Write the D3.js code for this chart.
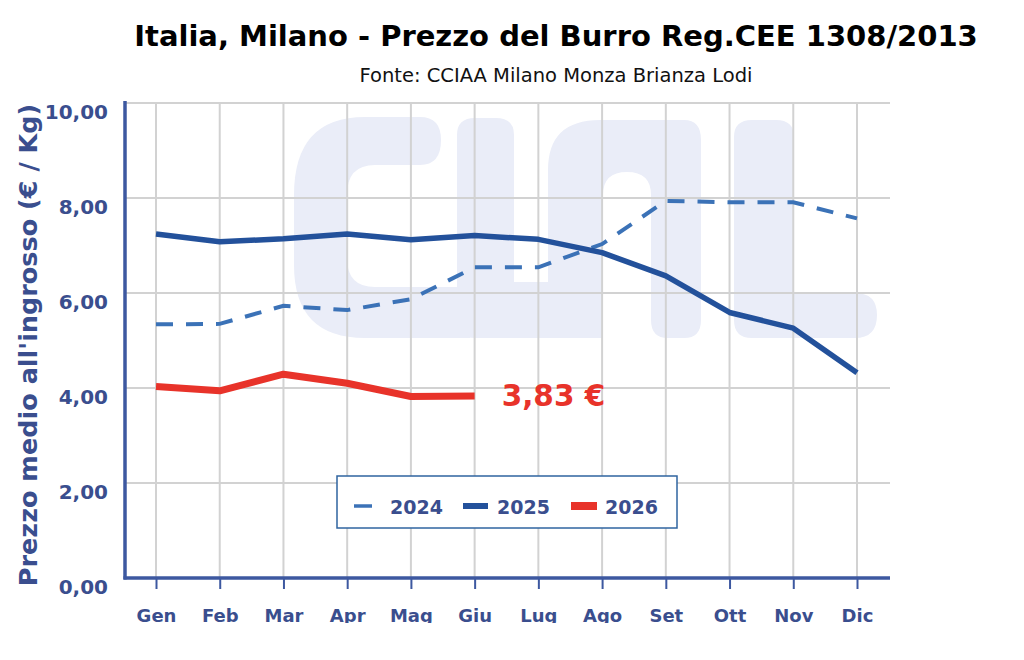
<!DOCTYPE html>
<html>
<head>
<meta charset="utf-8">
<script src="https://cdn.jsdelivr.net/npm/d3@7"></script>
<style>
  html, body { margin: 0; padding: 0; background: #fff; }
  svg { display: block; }
  text { font-family: "DejaVu Sans", Verdana, sans-serif; }
</style>
</head>
<body>
<svg id="chart" width="1024" height="623"></svg>
<script>
const months = ["Gen","Feb","Mar","Apr","Mag","Giu","Lug","Ago","Set","Ott","Nov","Dic"];
const values2024 = [5.34, 5.35, 5.73, 5.64, 5.87, 6.54, 6.54, 7.03, 7.94, 7.91, 7.91, 7.57];
const values2025 = [7.24, 7.08, 7.14, 7.24, 7.12, 7.21, 7.13, 6.85, 6.36, 5.59, 5.26, 4.32];
const values2026 = [4.03, 3.94, 4.29, 4.10, 3.82, 3.83];
const yTicks = [0, 2, 4, 6, 8, 10];
const seriesNames = ["2024", "2025", "2026"];
const lastLabel = "3,83 €";

const title = "Italia, Milano - Prezzo del Burro Reg.CEE 1308/2013";
const subtitle = "Fonte: CCIAA Milano Monza Brianza Lodi";
const yTitle = "Prezzo medio all'ingrosso (€ / Kg)";

const C = {
  text: "#3a4e8e",
  axis: "#3d58a0",
  grid: "#d2d2d2",
  s2024: "#3b72b7",
  s2025: "#23519b",
  s2026: "#e8332a",
  water: "#eaedf8",
  legendBorder: "#2f64a0"
};

const svg = d3.select("#chart");
const pLeft = 125, pRight = 890, pTop = 103, pBottom = 578;

const x = d3.scalePoint().domain(months).range([156, 857]);
const y = d3.scaleLinear().domain([0, 10]).range([pBottom, pTop]);

// Title
svg.append("text").attr("x", 556).attr("y", 46).attr("text-anchor", "middle")
  .attr("font-size", 29).attr("font-weight", "bold").attr("fill", "#000").text(title);
svg.append("text").attr("x", 556).attr("y", 82).attr("text-anchor", "middle")
  .attr("font-size", 19.5).attr("fill", "#111").text(subtitle);

// Watermark (logo decoration)
const wm = svg.append("g").attr("fill", C.water);
wm.append("path").attr("d",
  "M441,140 Q441,117 420,117 L365,117 Q294,117 294,195 L294,265 Q294,338 365,338 L470,338 L470,287 L375,287 Q347,287 347,258 L347,195 Q347,165 375,165 L420,165 Q441,165 441,140 Z");
wm.append("path").attr("d",
  "M457,135 Q457,118 475,118 L496,118 Q514,118 514,135 L514,282 L548,282 L548,170 Q548,120 600,120 L684,120 Q701,120 701,140 L701,320 Q701,338 684,338 L668,338 Q651,338 651,320 L651,195 Q651,172 627,172 Q603,172 603,195 L603,338 L475,338 Q457,338 457,320 Z");
wm.append("path").attr("d",
  "M734,137 Q734,120 752,120 L776,120 Q794,120 794,137 L794,293 L855,293 Q877,293 877,315 Q877,338 855,338 L752,338 Q734,338 734,320 Z");

// Grid
const grid = svg.append("g").attr("stroke", C.grid).attr("stroke-width", 2);
grid.selectAll("line.h").data(yTicks).join("line")
  .attr("x1", pLeft).attr("x2", pRight).attr("y1", d => y(d)).attr("y2", d => y(d));
grid.selectAll("line.v").data(months).join("line")
  .attr("x1", d => x(d)).attr("x2", d => x(d)).attr("y1", pTop).attr("y2", pBottom);

// Lines
const line = d3.line().x((d, i) => x(months[i])).y(d => y(d)).curve(d3.curveLinear);
svg.append("path").datum(values2024).attr("d", line).attr("fill", "none")
  .attr("stroke", C.s2024).attr("stroke-width", 4).attr("stroke-dasharray", "17,13");
svg.append("path").datum(values2025).attr("d", line).attr("fill", "none")
  .attr("stroke", C.s2025).attr("stroke-width", 5.5).attr("stroke-linejoin", "round");
svg.append("path").datum(values2026).attr("d", line).attr("fill", "none")
  .attr("stroke", C.s2026).attr("stroke-width", 7).attr("stroke-linejoin", "round");

// Last value label
const lastIdx = values2026.length - 1;
svg.append("text").attr("x", x(months[lastIdx]) + 27).attr("y", y(values2026[lastIdx]) + 10)
  .attr("font-size", 29.5).attr("font-weight", "bold").attr("fill", C.s2026).text(lastLabel);

// Axes
const yAxis = d3.axisLeft(y).tickValues(yTicks).tickSize(0).tickPadding(17)
  .tickFormat(d => d3.format(".2f")(d).replace(".", ","));
const gy = svg.append("g").attr("transform", `translate(${pLeft},0)`).call(yAxis);
gy.select(".domain").remove();
gy.selectAll("text").attr("font-size", 20).attr("font-weight", "bold").attr("fill", C.text)
  .attr("font-family", "'DejaVu Sans', Verdana, sans-serif").attr("dy", "0.75em");

const xAxis = d3.axisBottom(x).tickSize(11).tickPadding(20);
const gx = svg.append("g").attr("transform", `translate(0,${pBottom})`).call(xAxis);
gx.select(".domain").remove();
gx.selectAll(".tick line").attr("stroke", C.axis).attr("stroke-width", 2);
gx.selectAll("text").attr("font-size", 18).attr("font-weight", "bold").attr("fill", C.text)
  .attr("font-family", "'DejaVu Sans', Verdana, sans-serif");

svg.append("line").attr("x1", pLeft).attr("x2", pLeft).attr("y1", pTop - 2).attr("y2", pBottom + 1.5)
  .attr("stroke", C.axis).attr("stroke-width", 3.5);
svg.append("line").attr("x1", pLeft - 1.5).attr("x2", pRight).attr("y1", pBottom).attr("y2", pBottom)
  .attr("stroke", C.axis).attr("stroke-width", 3.5);

// Y title
svg.append("text").attr("transform", "translate(37,345) rotate(-90)").attr("text-anchor", "middle")
  .attr("font-size", 25.5).attr("font-weight", "bold").attr("fill", C.text).text(yTitle);

// Legend
const lg = svg.append("g");
lg.append("rect").attr("x", 337).attr("y", 476).attr("width", 340).attr("height", 52)
  .attr("fill", "#fff").attr("stroke", C.legendBorder).attr("stroke-width", 1.5);
const legendItems = [
  { name: seriesNames[0], color: C.s2024, w: 3.5, x1: 354, x2: 372, tx: 390 },
  { name: seriesNames[1], color: C.s2025, w: 6, x1: 463, x2: 488, tx: 497 },
  { name: seriesNames[2], color: C.s2026, w: 8, x1: 571, x2: 597, tx: 605 }
];
legendItems.forEach(it => {
  lg.append("line").attr("x1", it.x1).attr("x2", it.x2).attr("y1", 506).attr("y2", 506)
    .attr("stroke", it.color).attr("stroke-width", it.w);
  lg.append("text").attr("x", it.tx).attr("y", 514).attr("font-size", 19)
    .attr("font-weight", "bold").attr("fill", C.text).text(it.name);
});
</script>
</body>
</html>
